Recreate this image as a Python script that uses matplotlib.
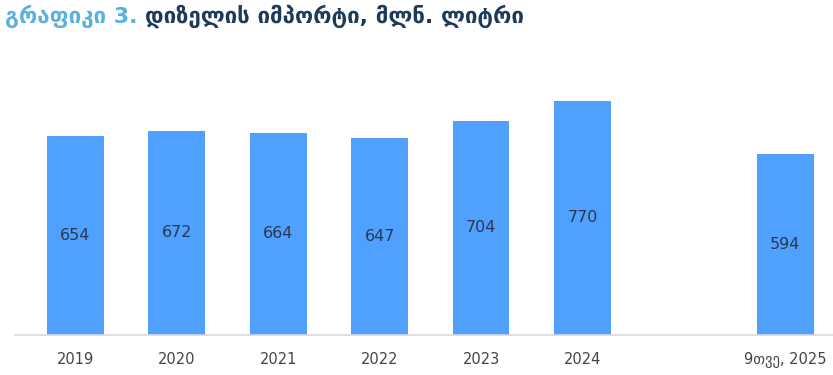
import matplotlib.pyplot as plt

# Diesel imports, mln litres
labels = ['2019', '2020', '2021', '2022', '2023', '2024', '9თვე, 2025']
values = [654, 672, 664, 647, 704, 770, 594]
positions = [0, 1, 2, 3, 4, 5, 7]

bar_color = '#4fa0ff'
navy = '#1d3a5a'

fig = plt.figure(figsize=(8.33, 3.75), dpi=100)
ax = fig.add_axes([0.018, 0.107, 0.982, 0.773])

bars = ax.bar(positions, values, width=0.56, color=bar_color, zorder=2)
for x, v in zip(positions, values):
    ax.text(x, v / 2, str(v), ha='center', va='center', fontsize=11.5,
            color='#2a3a4a', family='DejaVu Sans')

ax.set_xlim(-0.594, 7.47)
ax.set_ylim(0, 954)
ax.set_xticks(positions)
ax.set_xticklabels(labels, fontsize=10.5, color='#444444')
ax.tick_params(axis='x', length=0, pad=12)
ax.set_yticks([])
for s in ['top', 'right', 'left']:
    ax.spines[s].set_visible(False)
ax.spines['bottom'].set_color('#d9d9d9')
ax.spines['bottom'].set_linewidth(1.2)

# Title: light blue prefix + dark navy bold remainder
t1 = fig.text(0.006, 0.957, 'გრაფიკი 3. ', fontsize=16, fontweight='bold',
              color='#5ab0e0', va='center', ha='left')
fig.canvas.draw()
bb = t1.get_window_extent()
x2 = bb.x1 / fig.bbox.width
fig.text(x2, 0.957, 'დიზელის იმპორტი, მლნ. ლიტრი', fontsize=16,
         fontweight='bold', color=navy, va='center', ha='left')

plt.savefig('out.png', dpi=100)
